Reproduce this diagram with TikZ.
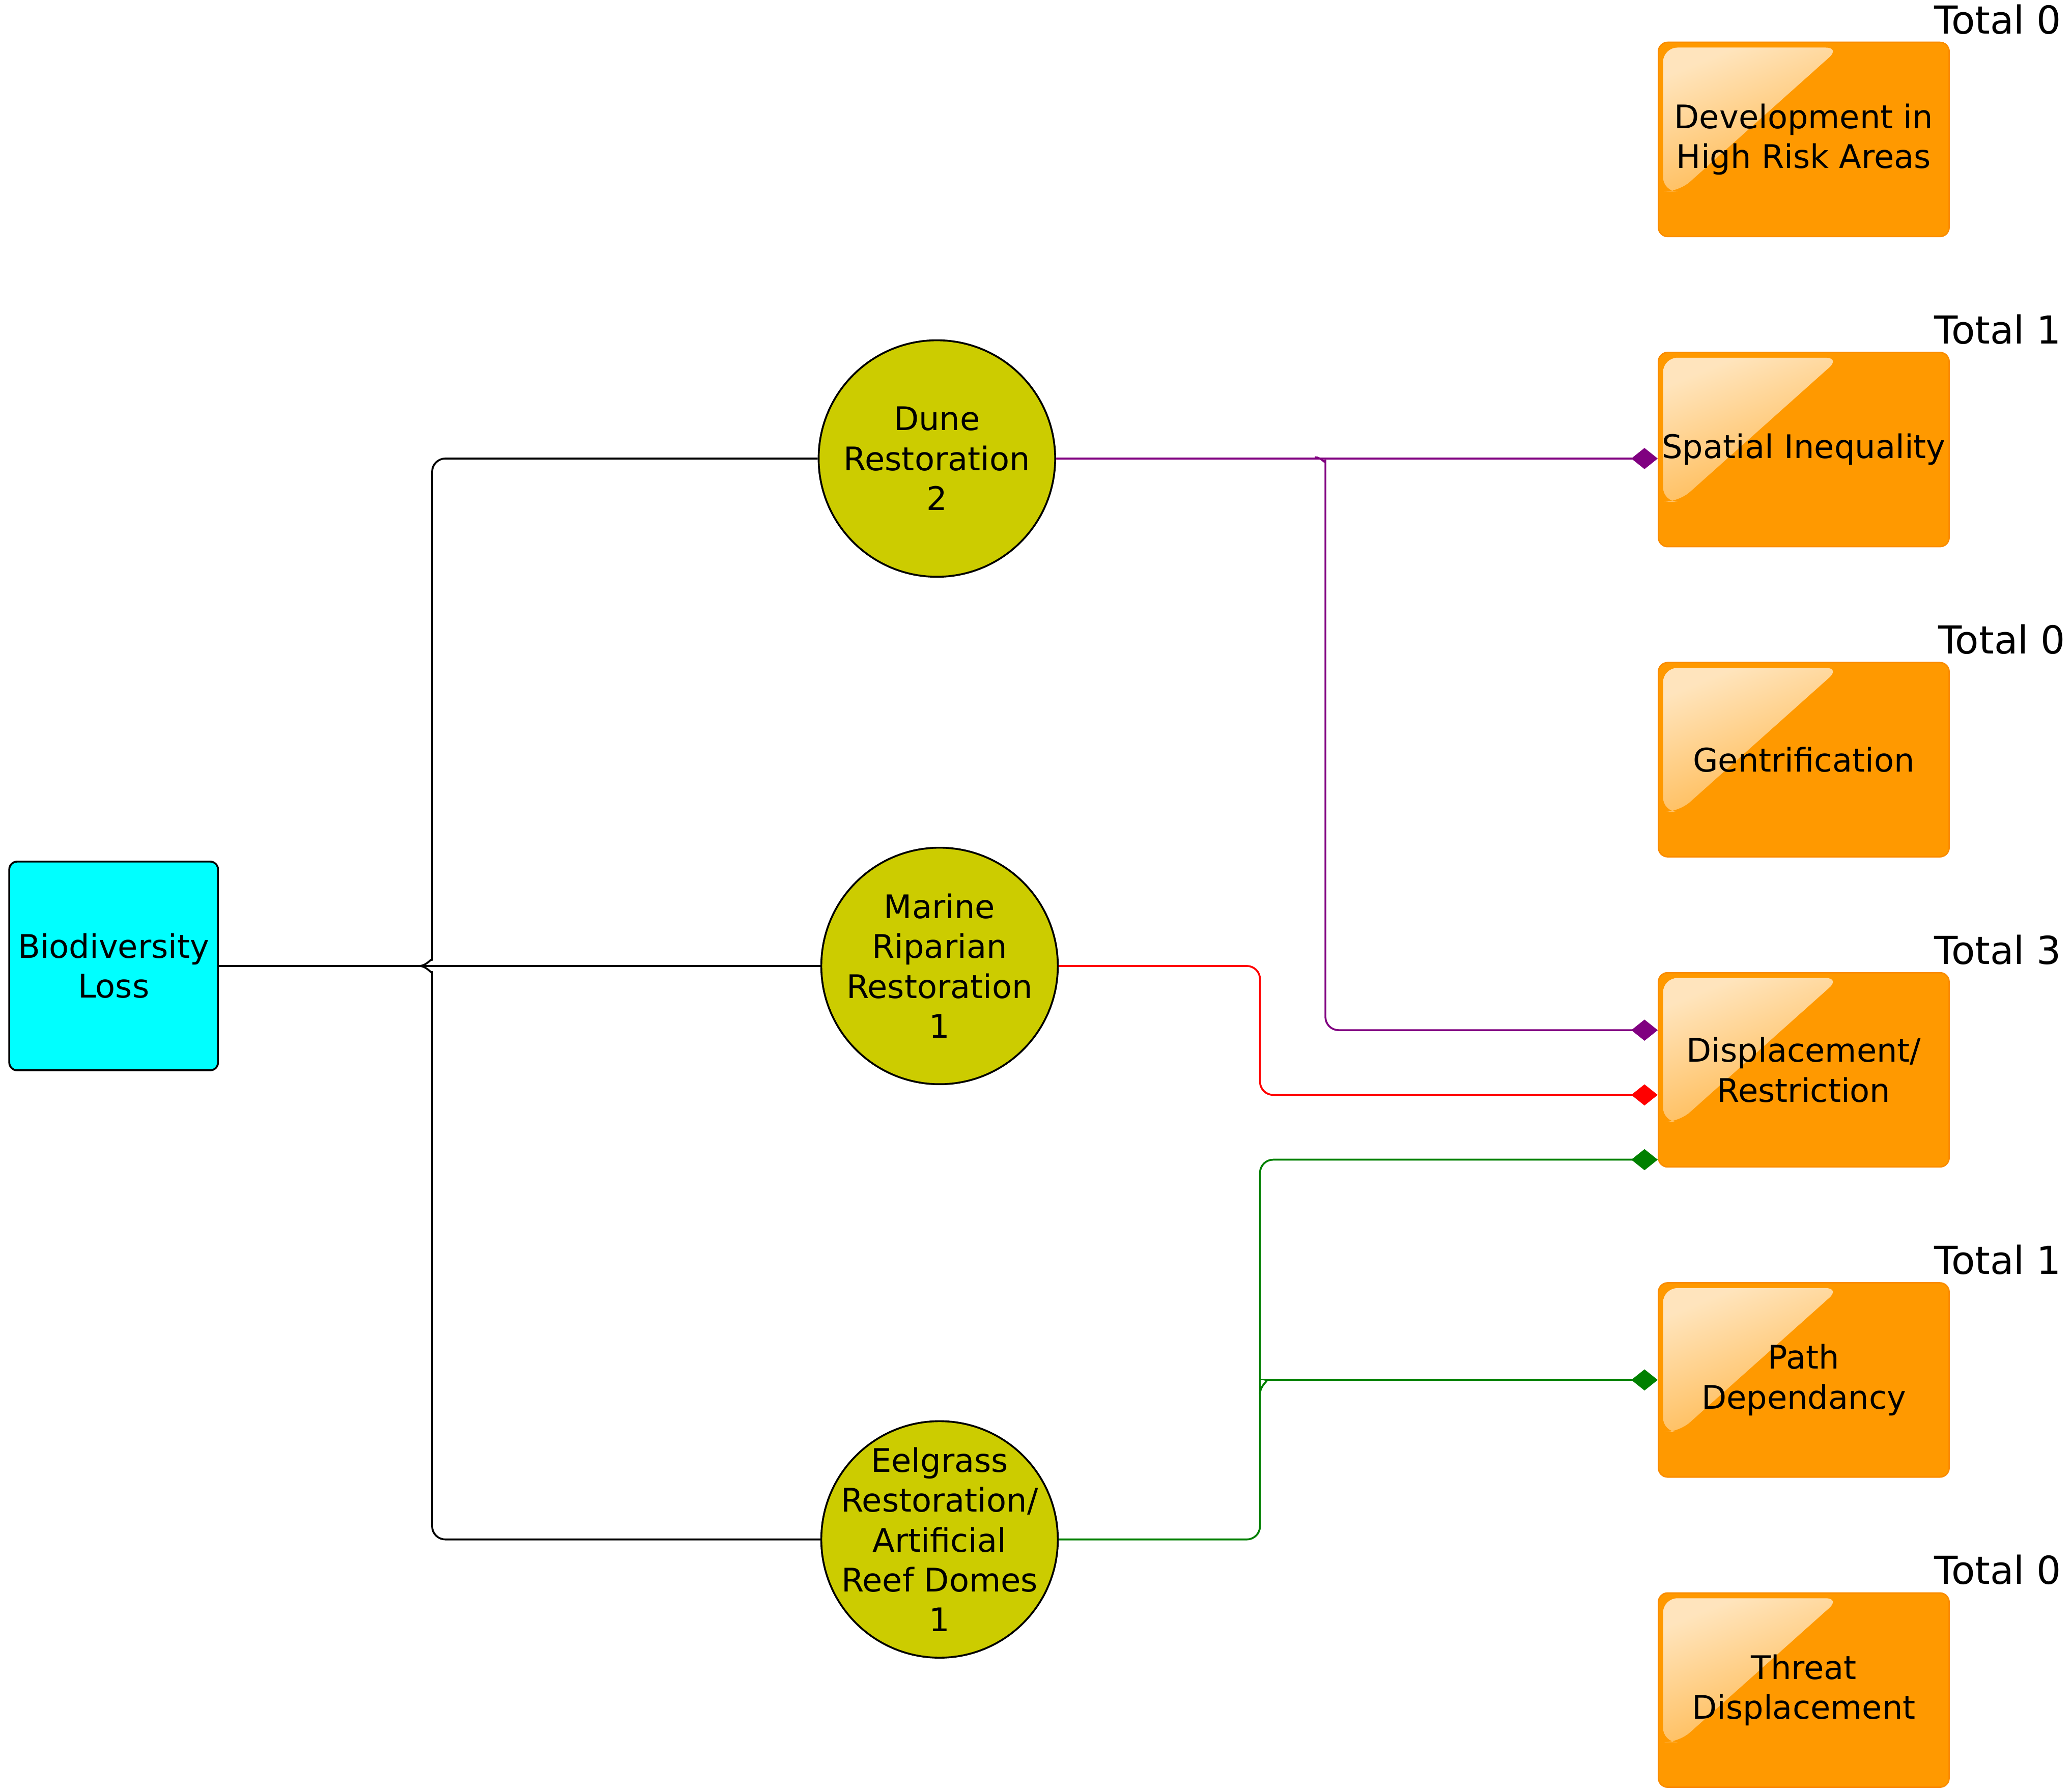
\documentclass[tikz,border=0pt]{standalone}
\usepackage{fontspec}
\setmainfont{DejaVu Sans}
\usetikzlibrary{positioning, arrows.meta, calc}

\definecolor{biocyan}{RGB}{0,255,255}
\definecolor{measureolive}{RGB}{204,204,0}
\definecolor{impactorange}{RGB}{255,153,0}
\definecolor{impactedge}{RGB}{250,140,0}
\definecolor{linkpurple}{RGB}{128,0,128}
\definecolor{linkgreen}{RGB}{0,128,0}

\tikzset{
    link/.style = {draw, line width=0.4pt, rounded corners=0.1cm},
    hit/.style = {link, -{Diamond[length=0.2cm, width=0.16cm]}},
}
\tikzset{
    gloss/.style = {top color=white!74!impactorange, bottom color=impactorange!95!white,
        shading angle=22, rounded corners=0.11cm},
    cause/.style = {draw, line width=0.4pt, fill=biocyan, rounded corners=0.06cm,
        minimum size=1.58cm, inner sep=0pt, align=center},
    measure/.style = {draw, circle, line width=0.4pt, fill=measureolive,
        minimum size=1.79cm, inner sep=-0.3cm, align=center},
    impact/.style = {draw=impactedge, line width=0.3pt, fill=impactorange, rounded corners=0.07cm,
        minimum width=2.2cm, minimum height=1.47cm, inner sep=0pt, align=center, on grid,
        path picture={\shade[gloss] ($(path picture bounding box.north west)+(0.035,-0.04)$)
            -- ++(1.34,0) -- ++(-1.22,-1.09) -- ++(-0.12,0) -- cycle;}},
    total/.style = {anchor=base east, inner sep=0pt, font=\fontsize{8.3}{10}\selectfont},
}

\begin{document}
\begin{tikzpicture}[node distance=2.347cm, font=\fontsize{7}{8.6}\selectfont]
    \useasboundingbox (0,0) rectangle (15.68,-13.56);

    \node[cause] (bio) at (0.86,-7.31) {Biodiversity\\Loss};

    \node[measure] (dune) at (7.09,-3.47) {Dune\\Restoration\\2};
    \node[measure] (marine) at (7.11,-7.31) {Marine\\Riparian\\Restoration\\1};
    \node[measure] (eel) at (7.11,-11.65) {Eelgrass\\Restoration/\\Artificial\\Reef Domes\\1};

    \node[impact] (dev) at (13.65,-1.055) {Development in\\High Risk Areas};
    \node[impact, below=of dev] (spatial) {Spatial Inequality};
    \node[impact, below=of spatial] (gent) {Gentrification};
    \node[impact, below=of gent] (disp) {Displacement/\\Restriction};
    \node[impact, below=of disp] (pathdep) {Path\\Dependancy};
    \node[impact, below=of pathdep] (threat) {Threat\\Displacement};

    \node[total] (tdev) at ($(dev.north east)+(0.85,0.06)$) {Total 0};
    \node[total] (tspatial) at ($(spatial.north east)+(0.85,0.06)$) {Total 1};
    \node[total] (tgent) at ($(gent.north east)+(0.88,0.06)$) {Total 0};
    \node[total] (tdisp) at ($(disp.north east)+(0.85,0.06)$) {Total 3};
    \node[total] (tpathdep) at ($(pathdep.north east)+(0.85,0.06)$) {Total 1};
    \node[total] (tthreat) at ($(threat.north east)+(0.85,0.06)$) {Total 0};

    % bracket from the cause to the measures
    \coordinate (fork) at (3.17,-7.31);
    \draw[link] (bio.east) -- (fork) -- (marine.west);
    \draw[link] (fork) to[out=0, in=-90] (3.27,-7.17) |- (dune.west);
    \draw[link] (fork) to[out=0, in=90] (3.27,-7.45) |- (eel.west);

    % measures to impacts
    \coordinate (dunesplit) at (9.95,-3.46);
    \draw[hit, linkpurple] (dune.east) -- (dune.east -| spatial.west);
    \draw[hit, linkpurple] (dunesplit) to[out=0, in=90] (10.03,-3.58) |- ($(disp.west)+(0,0.30)$);

    \coordinate (redbend) at (9.535,-7.31);
    \draw[hit, red] (marine.east) -- (redbend) |- ($(disp.west)+(0,-0.19)$);

    \coordinate (greenbend) at (9.535,-11.65);
    \coordinate (greensplit) at (9.535,-10.55);
    \draw[hit, linkgreen] (eel.east) -- (greenbend) |- ($(disp.west)+(0,-0.68)$);
    \draw[hit, linkgreen] (greensplit) to[out=90, in=180] (9.68,-10.443) -- (pathdep.west);
\end{tikzpicture}
\end{document}
